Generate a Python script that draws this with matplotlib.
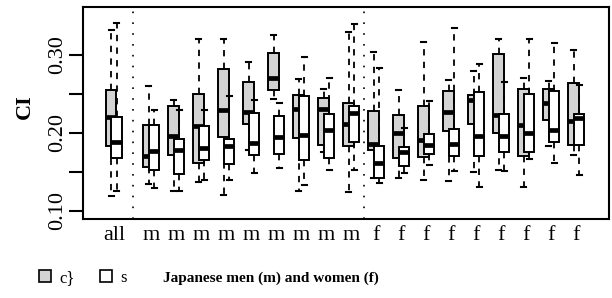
import matplotlib
matplotlib.use('Agg')
import matplotlib.pyplot as plt
from matplotlib.patches import Patch

plt.rcParams['font.family'] = ['Liberation Serif', 'DejaVu Serif']

groups = ['all'] + ['m'] * 9 + ['f'] * 9
positions = [0] + [1.5 + i for i in range(9)] + [10.5 + i for i in range(9)]
separators = [0.75, 10.0]

# gray boxes (c})
c_lo = [0.119, 0.135, 0.125, 0.137, 0.120, 0.178, 0.243, 0.125, 0.175, 0.124,
        0.142, 0.142, 0.140, 0.138, 0.150, 0.152, 0.131, 0.183, 0.172]
c_q1 = [0.183, 0.157, 0.172, 0.162, 0.195, 0.212, 0.255, 0.193, 0.185, 0.183,
        0.178, 0.168, 0.169, 0.202, 0.212, 0.200, 0.171, 0.217, 0.184]
c_med = [0.221, 0.171, 0.196, 0.209, 0.230, 0.227, 0.271, 0.231, 0.231, 0.212,
         0.186, 0.200, 0.191, 0.227, 0.242, 0.223, 0.210, 0.238, 0.215]
c_q3 = [0.255, 0.210, 0.235, 0.250, 0.282, 0.265, 0.302, 0.249, 0.245, 0.238,
        0.228, 0.223, 0.235, 0.254, 0.249, 0.301, 0.256, 0.256, 0.264]
c_hi = [0.332, 0.260, 0.242, 0.321, 0.321, 0.291, 0.326, 0.269, 0.256, 0.330,
        0.304, 0.255, 0.317, 0.268, 0.279, 0.320, 0.270, 0.266, 0.306]

# white boxes (s)
s_lo = [0.125, 0.129, 0.125, 0.140, 0.140, 0.149, 0.155, 0.133, 0.153, 0.153,
        0.136, 0.149, 0.159, 0.151, 0.131, 0.151, 0.166, 0.162, 0.146]
s_q1 = [0.168, 0.152, 0.148, 0.165, 0.160, 0.172, 0.173, 0.165, 0.168, 0.188,
        0.142, 0.158, 0.173, 0.170, 0.171, 0.176, 0.175, 0.189, 0.184]
s_med = [0.189, 0.177, 0.178, 0.181, 0.183, 0.187, 0.195, 0.197, 0.204, 0.226,
         0.161, 0.175, 0.185, 0.186, 0.196, 0.196, 0.200, 0.204, 0.219]
s_q3 = [0.220, 0.210, 0.192, 0.209, 0.192, 0.225, 0.222, 0.247, 0.224, 0.235,
        0.183, 0.182, 0.199, 0.205, 0.253, 0.224, 0.250, 0.254, 0.224]
s_hi = [0.341, 0.230, 0.230, 0.230, 0.247, 0.242, 0.239, 0.298, 0.271, 0.340,
        0.283, 0.206, 0.241, 0.334, 0.289, 0.265, 0.320, 0.315, 0.262]

yticks = [0.10, 0.15, 0.20, 0.25, 0.30]
ytick_labels = ['0.10', '', '0.20', '', '0.30']


def make_stats(lo, q1, med, q3, hi):
    return [dict(whislo=a, q1=b, med=c, q3=d, whishi=e, fliers=[])
            for a, b, c, d, e in zip(lo, q1, med, q3, hi)]


def draw_boxes(ax, stats, pos, color, z):
    ax.bxp(stats, positions=pos, widths=0.42, patch_artist=True,
           showfliers=False, manage_ticks=False, zorder=z,
           boxprops=dict(facecolor=color, edgecolor='black', linewidth=1.4),
           medianprops=dict(color='black', linewidth=3.4, solid_capstyle='butt'),
           whiskerprops=dict(color='black', linewidth=1.3, linestyle=(0, (3.5, 3.5))),
           capprops=dict(color='black', linewidth=1.5), capwidths=0.2)


fig = plt.figure(figsize=(6.12, 2.98), dpi=100)
ax = fig.add_axes([82.7 / 612, 1 - 219 / 298, (609 - 82.7) / 612, (219 - 7.3) / 298])

off = 0.11
draw_boxes(ax, make_stats(c_lo, c_q1, c_med, c_q3, c_hi),
           [p - off for p in positions], 'lightgray', 2)
draw_boxes(ax, make_stats(s_lo, s_q1, s_med, s_q3, s_hi),
           [p + off for p in positions], 'white', 3)

for x in separators:
    ax.axvline(x, color='black', linewidth=1.2, linestyle=(0, (1, 5.5)), zorder=1)

ax.set_xlim(-1.25, 19.8)
ax.set_ylim(0.0897, 0.3611)
ax.set_xticks(positions)
ax.set_xticklabels(groups, fontsize=16)
ax.tick_params(axis='x', length=0, pad=5)
ax.set_yticks(yticks)
ax.set_yticklabels(ytick_labels, fontsize=16, rotation=90, va='center')
ax.tick_params(axis='y', length=10, width=1.5, pad=1.5)
for sp in ax.spines.values():
    sp.set_linewidth(1.5)

fig.text(25 / 612, 1 - 107 / 298, 'CI', rotation=90, fontsize=16,
         fontweight='bold', ha='center', va='center')

handles = [Patch(facecolor='lightgray', edgecolor='black', linewidth=1.2),
           Patch(facecolor='white', edgecolor='black', linewidth=1.2)]
fig.legend(handles, ['c}', 's'], loc='center left', ncol=2, frameon=False,
           bbox_to_anchor=(32 / 612, 1 - 278 / 298), fontsize=12,
           handlelength=0.75, handleheight=0.75, handletextpad=0.5,
           columnspacing=1.5, borderaxespad=0)
fig.text(163 / 612, 1 - 278 / 298, 'Japanese men (m) and women (f)',
         fontsize=11, fontweight='bold', ha='left', va='center')

fig.savefig('out.png', dpi=100)
